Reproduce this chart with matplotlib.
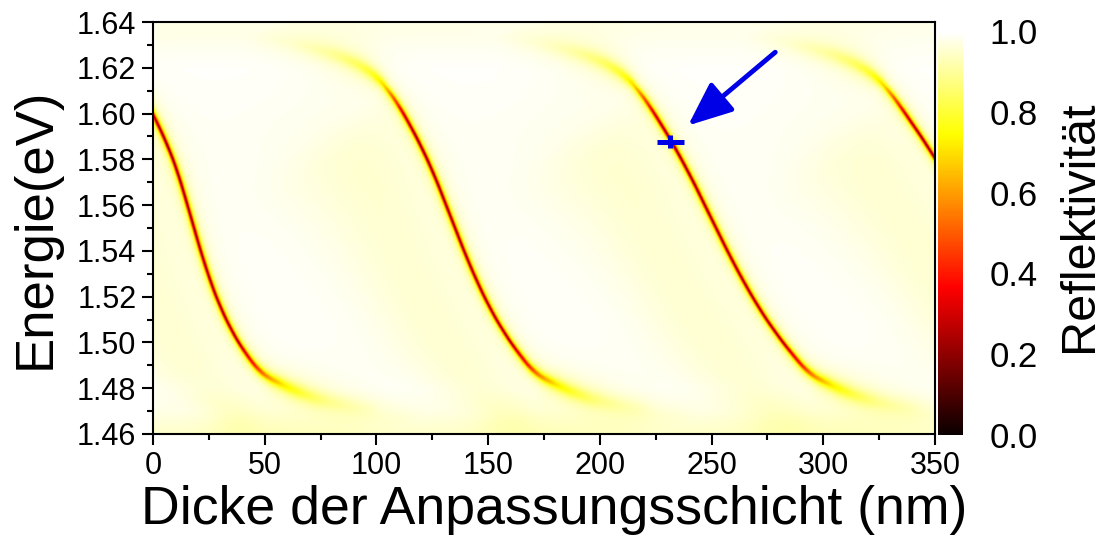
import numpy as np
import matplotlib
matplotlib.use("Agg")
import matplotlib.pyplot as plt

plt.rcParams['font.family'] = ['Liberation Sans', 'DejaVu Sans']

# ---- axes ----
thickness_range = [0.0, 350.0]
energy_range = [1.46, 1.64]
x_ticks = [0, 50, 100, 150, 200, 250, 300, 350]
y_ticks = [1.46, 1.48, 1.50, 1.52, 1.54, 1.56, 1.58, 1.60, 1.62, 1.64]
cbar_ticks = [0.0, 0.2, 0.4, 0.6, 0.8, 1.0]

# ---- resonance branch: thickness of the reflectivity dip vs. energy ----
branch_energy = [1.634, 1.632, 1.6295, 1.626, 1.622, 1.618, 1.614, 1.607,
                 1.60, 1.59, 1.58, 1.57, 1.56, 1.55, 1.54, 1.53,
                 1.52, 1.51, 1.50, 1.49, 1.485, 1.4792, 1.4755, 1.4725,
                 1.4695, 1.467]
branch_thickness = [40, 55, 68, 81, 91, 97.5, 102, 107.5,
                    112, 117.6, 122.6, 127.0, 131.0, 135.0, 139.0, 143.3,
                    148.0, 153.4, 159.8, 167.5, 173.0, 185, 195, 207,
                    225, 245]
branch_orders = [-2, -1, 0, 1, 2]

# repetition period of the branches along the thickness axis
period_energy = [1.46, 1.48, 1.49, 1.50, 1.52, 1.54, 1.56, 1.58, 1.60, 1.62, 1.64]
period_nm = [122.5, 122.6, 122.4, 121.8, 119.9, 117.8, 115.7, 113.7, 112.2, 111.5, 111.3]

# dip depth and half width (pixels) along the branch
profile_energy = [1.467, 1.4695, 1.471, 1.474, 1.477, 1.481, 1.485, 1.49,
                  1.50, 1.59, 1.60, 1.607, 1.612, 1.617, 1.622, 1.627,
                  1.631, 1.634]
dip_depth = [0.0, 0.02, 0.05, 0.10, 0.17, 0.27, 0.42, 0.60,
             0.76, 0.78, 0.70, 0.50, 0.32, 0.22, 0.15, 0.08,
             0.03, 0.0]
dip_width = [13, 12, 11, 9.5, 7.5, 5.5, 3.5, 2.4,
             1.8, 1.8, 2.0, 2.4, 3.0, 5.0, 7.0, 9.0,
             10, 11]

# slowly varying background
base_reflectivity = 0.995
halo_depth = 0.04
halo_offset_px = 60.0
halo_width_px = 55.0
edge_energy = [1.46, 1.465, 1.47, 1.48, 1.62, 1.63, 1.64]
edge_drop = [0.05, 0.035, 0.018, 0.0, 0.0, 0.01, 0.02]

# marked working point and pointer
marker_thickness = 231.5
marker_energy = 1.5877
marker_dx = 6.0
marker_dE = 0.0029
arrow_tail = (278.5, 1.6268)
arrow_head = (239.5, 1.5948)

# ---- figure ----
fig = plt.figure(figsize=(11.06, 5.52), dpi=100)
ax = fig.add_axes([0.1383, 0.2138, 0.7071, 0.7463])
cax = fig.add_axes([0.8481, 0.2120, 0.0226, 0.7319])

# pixel scale of the data axes (for isotropic distances)
bbox = ax.get_window_extent()
sx = bbox.width / (thickness_range[1] - thickness_range[0])
sy = bbox.height / (energy_range[1] - energy_range[0])

# smooth parametric version of the branch
be = np.array(branch_energy)
bt = np.array(branch_thickness)
t = np.linspace(0, len(be) - 1, 5000)
Ec = np.interp(t, np.arange(len(be)), be)
dc = np.interp(t, np.arange(len(bt)), bt)
k = 150
kern = np.ones(k) / k
Ec_s = np.convolve(np.pad(Ec, k, mode='edge'), kern, mode='same')[k:-k]
dc_s = np.convolve(np.pad(dc, k, mode='edge'), kern, mode='same')[k:-k]

# smooth period curve on the same energies
pe = np.array(period_energy)
pn = np.array(period_nm)
E_p = np.linspace(pe[0], pe[-1], 2000)
P_p = np.interp(E_p, pe, pn)
kp = 120
P_p = np.convolve(np.pad(P_p, kp, mode='edge'), np.ones(kp) / kp, mode='same')[kp:-kp]
prof_E = np.array(profile_energy)

d = np.linspace(thickness_range[0], thickness_range[1], 1401)
E = np.linspace(energy_range[0], energy_range[1], 721)
D, EE = np.meshgrid(d, E)

R = base_reflectivity - np.interp(EE, edge_energy, edge_drop)
for n in branch_orders:
    dn = dc_s + n * np.interp(Ec_s, E_p, P_p)
    order_E = np.argsort(Ec_s, kind='stable')
    d_of_E = np.interp(EE, Ec_s[order_E], dn[order_E])
    order_d = np.argsort(dn, kind='stable')
    E_of_d = np.interp(D, dn[order_d], Ec_s[order_d])
    dx = (D - d_of_E) * sx
    dy = (EE - E_of_d) * sy
    s2 = dx ** 2 + dy ** 2 + 1e-9
    r = np.abs(dx * dy) / np.sqrt(s2)
    sign = np.sign(dx)
    E_foot = EE - (dy / sy) * dx ** 2 / s2
    A = np.interp(E_foot, prof_E, dip_depth)
    w = np.interp(E_foot, prof_E, dip_width)
    R -= A / (1.0 + (r / w) ** 2)
    R -= halo_depth * (A / max(dip_depth)) * np.exp(-((sign * r + halo_offset_px) / halo_width_px) ** 2)

R = np.clip(R, 0, 1)

im = ax.imshow(R, origin='lower', aspect='auto', cmap='hot', vmin=0, vmax=1,
               extent=[thickness_range[0], thickness_range[1], energy_range[0], energy_range[1]],
               interpolation='bilinear')

ax.errorbar([marker_thickness], [marker_energy], xerr=marker_dx, yerr=marker_dE,
            fmt='none', ecolor='#0000e6', elinewidth=3.6, capsize=0, zorder=5)
ax.annotate('', xy=arrow_head, xytext=arrow_tail,
            arrowprops=dict(arrowstyle='-|>,head_length=0.9,head_width=0.38',
                            color='#0000e6', lw=3.5, mutation_scale=30,
                            shrinkA=0, shrinkB=0))

ax.set_xlim(thickness_range)
ax.set_ylim(energy_range)
ax.set_xticks(x_ticks)
ax.set_yticks(y_ticks)
ax.set_yticklabels([f'{v:.2f}' for v in y_ticks])
ax.set_xticks([25, 75, 125, 175, 225, 275, 325], minor=True)
ax.set_yticks([1.47, 1.49, 1.51, 1.53, 1.55, 1.57, 1.59, 1.61, 1.63], minor=True)
ax.tick_params(which='major', direction='out', length=8, width=1.5, labelsize=22,
               top=False, right=False, pad=4)
ax.tick_params(which='minor', direction='out', length=4, width=1.5, top=False, right=False)
for sp in ax.spines.values():
    sp.set_linewidth(1.5)

ax.set_xlabel('Dicke der Anpassungsschicht (nm)', fontsize=38.6)
ax.xaxis.set_label_coords(0.513, -0.125)
ax.set_ylabel('Energie(eV)', fontsize=38)
ax.yaxis.set_label_coords(-0.118, 0.5)

cb = fig.colorbar(im, cax=cax, ticks=cbar_ticks)
cb.outline.set_visible(False)
cb.ax.tick_params(length=0, labelsize=25, pad=19)
cb.ax.set_yticklabels([f'{v:.1f}' for v in cbar_ticks])
fig.text(1080 / 1106, 0.590, 'Reflektivität', rotation=90, ha='center', va='center',
         fontsize=35)

fig.savefig('out.png', dpi=100)
